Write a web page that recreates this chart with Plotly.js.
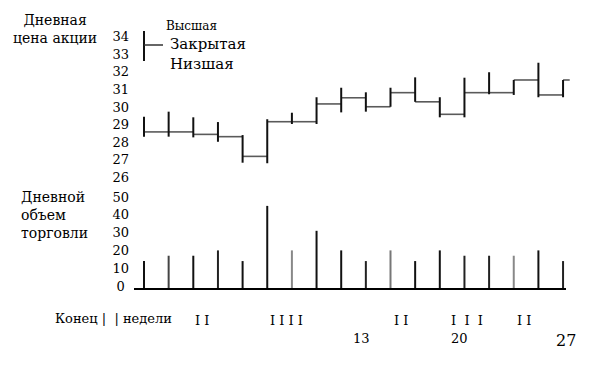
<!DOCTYPE html>
<html>
<head>
<meta charset="utf-8">
<script src="https://cdn.plot.ly/plotly-3.0.1.min.js"></script>
<style>html,body{margin:0;padding:0;background:#fff;}#chart{width:593px;height:367px;}</style>
</head>
<body>
<div id="chart"></div>
<script>
// ---- data ----
const days = [1,2,3,4,5,6,7,8,9,10,11,12,13,14,15,16,17,18];
const highPrice  = [29.45,29.74,29.42,29.15,28.41,29.31,29.68,30.56,31.10,30.84,31.10,31.69,30.56,31.67,31.98,31.54,32.52,31.54];
const lowPrice   = [28.32,28.32,28.28,28.03,26.84,26.81,29.04,29.04,29.70,29.74,30.02,30.30,29.42,29.42,30.73,30.69,30.56,30.56];
const closePrice = [28.59,28.59,28.45,28.32,27.20,29.17,29.17,30.18,30.53,30.02,30.82,30.30,29.59,30.82,30.82,31.54,30.69,31.54];
const volume     = [14,17,17,20,14,45,20,31,20,14,20,14,20,17,17,17,20,14];
const priceTicks = [26,27,28,29,30,31,32,33,34];
const volumeTicks = [0,10,20,30,40,50];
const volumeTickText = ['0\u2008','10','20','30','40','50'];
const weekMarks = ['I I','I I I I','I I','I  I  I','I I'];
const dayLabels = ['13','20','27'];

// ---- styles ----
const W = 593, H = 367;
const FONT = 'DejaVu Serif';
const volColors = ['#111','#444','#111','#222','#111','#111','#888','#111','#111','#222','#777','#111','#111','#222','#222','#888','#111','#222'];
const VOL_AXIS_BASE = -1.7;   // axis line sits just under the zero label
const closeTail = 0.27;       // length of last closing tick (in days)

const px = (x) => x / W;
const py = (y) => 1 - y / H;

const traces = [];
const cx = [], cy = [];
for (let i = 0; i < days.length; i++) {
  const xEnd = i < days.length - 1 ? days[i+1] : days[i] + closeTail;
  cx.push(days[i], xEnd, null);
  cy.push(closePrice[i], closePrice[i], null);
}
traces.push({type:'scatter', mode:'lines', x:cx, y:cy, xaxis:'x', yaxis:'y',
  line:{color:'#5a5a5a', width:1.6}, hoverinfo:'skip', showlegend:false});
const hx = [], hy = [];
for (let i = 0; i < days.length; i++) {
  hx.push(days[i], days[i], null);
  hy.push(lowPrice[i], highPrice[i], null);
}
traces.push({type:'scatter', mode:'lines', x:hx, y:hy, xaxis:'x', yaxis:'y',
  line:{color:'#111', width:2}, hoverinfo:'skip', showlegend:false});
for (let i = 0; i < days.length; i++) {
  traces.push({type:'scatter', mode:'lines', x:[days[i], days[i]], y:[VOL_AXIS_BASE, volume[i]],
    xaxis:'x', yaxis:'y2', line:{color:volColors[i], width:2}, hoverinfo:'skip', showlegend:false});
}

const txt = (text, x, y, size, anchor, align) => ({
  text: text, xref:'paper', yref:'paper', x:px(x), y:py(y), showarrow:false,
  xanchor: anchor || 'left', yanchor:'middle', align: align || anchor || 'left',
  font:{family:FONT, size:size, color:'#000'}
});

const annotations = [
  txt('Дневная<br>цена акции', 55, 29, 14, 'center'),
  txt('Дневной<br>объем<br>торговли', 19, 215, 14, 'left'),
  txt('Высшая', 164, 26, 12),
  txt('Закрытая<br>Низшая', 168, 54, 15, 'left'),
  txt('Конец |&nbsp;&nbsp;| недели', 53, 318, 13),
  txt(weekMarks[0], 202, 320, 13, 'center'),
  txt(weekMarks[1], 286, 320, 13, 'center'),
  txt(weekMarks[2], 401, 320, 13, 'center'),
  txt(weekMarks[3], 467, 320, 13, 'center'),
  txt(weekMarks[4], 524, 320, 13, 'center'),
  txt(dayLabels[0], 362, 338, 13, 'center'),
  txt(dayLabels[1], 459, 338, 13, 'center'),
  txt(dayLabels[2], 566, 340, 16, 'center')
];

const shapes = [
  {type:'line', xref:'paper', yref:'paper', x0:px(144), x1:px(144), y0:py(31), y1:py(61), line:{color:'#111', width:2}},
  {type:'line', xref:'paper', yref:'paper', x0:px(144), x1:px(163), y0:py(45), y1:py(45), line:{color:'#333', width:1.5}},
  {type:'line', xref:'paper', yref:'paper', x0:px(134), x1:px(566), y0:py(289), y1:py(289), line:{color:'#000', width:2}}
];

const tickFont = {family:FONT, size:13, color:'#000'};
const layout = {
  width:W, height:H, margin:{l:0,r:0,t:0,b:0},
  font:{family:FONT},
  paper_bgcolor:'#fff', plot_bgcolor:'rgba(0,0,0,0)',
  showlegend:false,
  xaxis:{domain:[0,1], range:[-4.842, 19.215], visible:false, fixedrange:true},
  yaxis:{domain:[0,1], range:[15.233, 36.085], anchor:'free', position:px(129),
    tickmode:'array', tickvals:priceTicks, ticktext:priceTicks.map(String),
    showgrid:false, zeroline:false, showline:false, ticks:'', tickfont:tickFont},
  yaxis2:{domain:[0,1], range:[-45.51, 160.67], overlaying:'y', anchor:'free', position:px(129), side:'left',
    tickmode:'array', tickvals:volumeTicks, ticktext:volumeTickText,
    showgrid:false, zeroline:false, showline:false, ticks:'', tickfont:tickFont},
  annotations:annotations, shapes:shapes
};

Plotly.newPlot('chart', traces, layout, {staticPlot:true, displayModeBar:false});
</script>
</body>
</html>
